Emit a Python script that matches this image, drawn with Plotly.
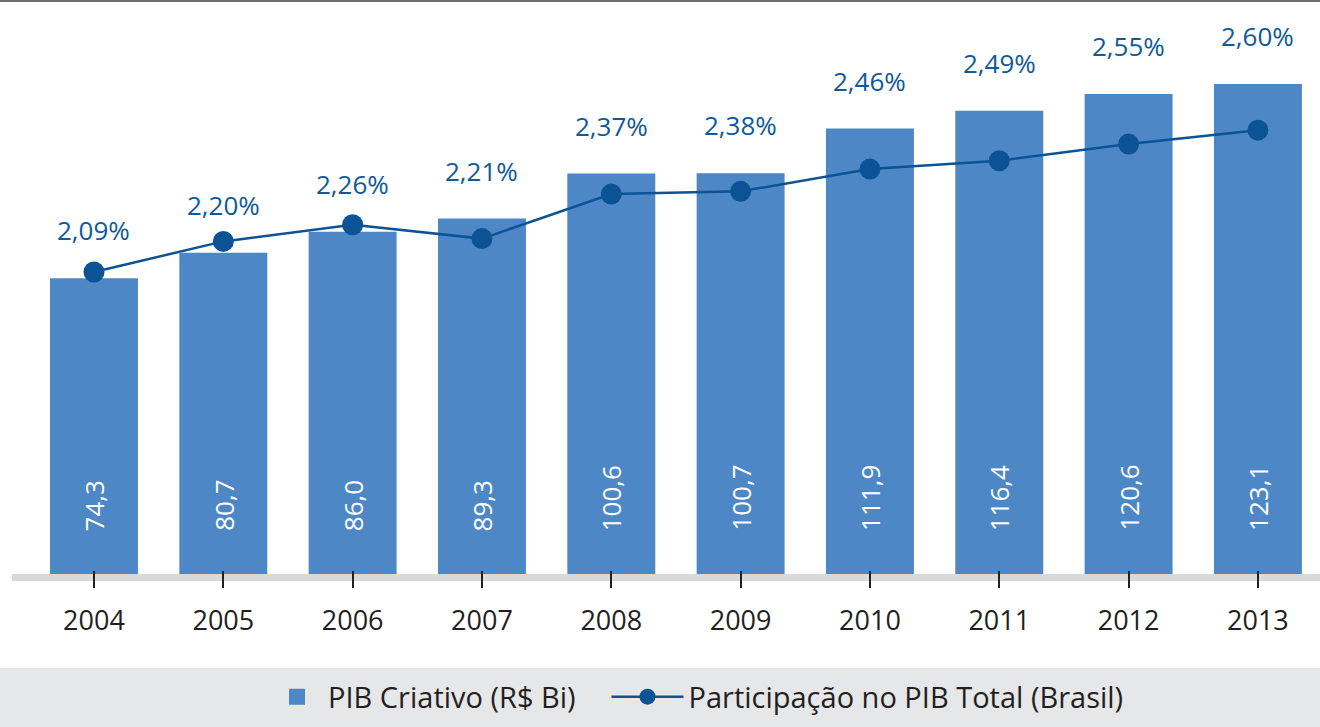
import plotly.graph_objects as go

# Source data
years = [2004, 2005, 2006, 2007, 2008, 2009, 2010, 2011, 2012, 2013]
pib_criativo = [74.3, 80.7, 86.0, 89.3, 100.6, 100.7, 111.9, 116.4, 120.6, 123.1]
participacao = [2.09, 2.20, 2.26, 2.21, 2.37, 2.38, 2.46, 2.49, 2.55, 2.60]

BAR_COLOR = "#4d87c6"
LINE_COLOR = "#0b5394"
PCT_COLOR = "#0e5a9a"
TEXT_COLOR = "#231f20"
FONT = "'Open Sans', Roboto, sans-serif"
X_RANGE = [2004 - 0.634, 2004 + 9.48]


def br(v, nd):
    return f"{v:.{nd}f}".replace(".", ",")


fig = go.Figure()

fig.add_trace(go.Bar(
    x=years, y=pib_criativo, name="PIB Criativo (R$ Bi)",
    marker=dict(color=BAR_COLOR, line=dict(width=0)),
    width=0.68, hoverinfo="skip", showlegend=False,
))

# legend entry for the bars, with a larger square swatch (also hosts the tick axis)
fig.add_trace(go.Scatter(
    x=[None], y=[None], xaxis="x2", mode="markers", name="PIB Criativo (R$ Bi)",
    marker=dict(symbol="square", color=BAR_COLOR, size=18),
    hoverinfo="skip", legend="legend",
))

fig.add_trace(go.Scatter(
    x=years, y=participacao, yaxis="y2", mode="lines+markers",
    name="Participação no PIB Total (Brasil)",
    line=dict(color=LINE_COLOR, width=2.5),
    marker=dict(color=LINE_COLOR, size=21),
    hoverinfo="skip", legend="legend2",
))

annotations = []
for yr, v, p in zip(years, pib_criativo, participacao):
    # percentage label above each bar
    annotations.append(dict(
        x=yr, y=v, xref="x", yref="y", text=br(p, 2) + "%",
        showarrow=False, yanchor="middle", yshift=48,
        font=dict(family=FONT, size=26, color=PCT_COLOR),
    ))
    # rotated value inside the bar, near its base
    annotations.append(dict(
        x=yr, y=0, xref="x", yref="y", text=br(v, 1),
        showarrow=False, textangle=-90, yanchor="bottom", yshift=41,
        font=dict(family=FONT, size=26, color="white"),
    ))

shapes = [
    # legend band
    dict(type="rect", xref="paper", yref="paper", x0=-0.05, x1=1.05,
         y0=-0.1638, y1=-0.32, fillcolor="#e6e7e8", line=dict(width=0),
         layer="below"),
    # top rule
    dict(type="line", xref="paper", yref="paper", x0=-0.05, x1=1.05,
         y0=1, y1=1, line=dict(color="#6d6e71", width=4)),
]

legend_common = dict(
    orientation="h", xanchor="left", y=-0.214, yanchor="middle",
    bgcolor="rgba(0,0,0,0)", font=dict(family=FONT, size=29, color=TEXT_COLOR),
)

fig.update_layout(
    width=1320, height=727,
    margin=dict(l=12, r=0, t=0, b=153),
    paper_bgcolor="white", plot_bgcolor="white",
    font=dict(family=FONT, size=26, color=TEXT_COLOR),
    showlegend=True,
    legend=dict(x=0.1942, itemwidth=52, **legend_common),
    legend2=dict(x=0.4545, itemwidth=72, **legend_common),
    xaxis=dict(
        range=X_RANGE, tickmode="array", tickvals=years,
        ticktext=[str(y) for y in years],
        showline=True, linecolor="#d9d9d9", linewidth=7,
        ticks="", ticklabelstandoff=17,
        showgrid=False, zeroline=False, fixedrange=True,
        tickfont=dict(family=FONT, size=27, color=TEXT_COLOR),
    ),
    # tick marks crossing the baseline band
    xaxis2=dict(
        range=X_RANGE, overlaying="x", anchor="free", position=0.007,
        side="bottom", tickmode="array", tickvals=years,
        ticks="outside", ticklen=17, tickwidth=2, tickcolor=TEXT_COLOR,
        showticklabels=False, showline=False, showgrid=False,
        zeroline=False, fixedrange=True,
    ),
    yaxis=dict(range=[0, 144.2], visible=False, showgrid=False, fixedrange=True),
    yaxis2=dict(range=[1.004, 3.068], overlaying="y", visible=False,
                showgrid=False, fixedrange=True),
    annotations=annotations,
    shapes=shapes,
    bargap=0.32,
)

fig.write_html("out.html", config={"displayModeBar": False})
